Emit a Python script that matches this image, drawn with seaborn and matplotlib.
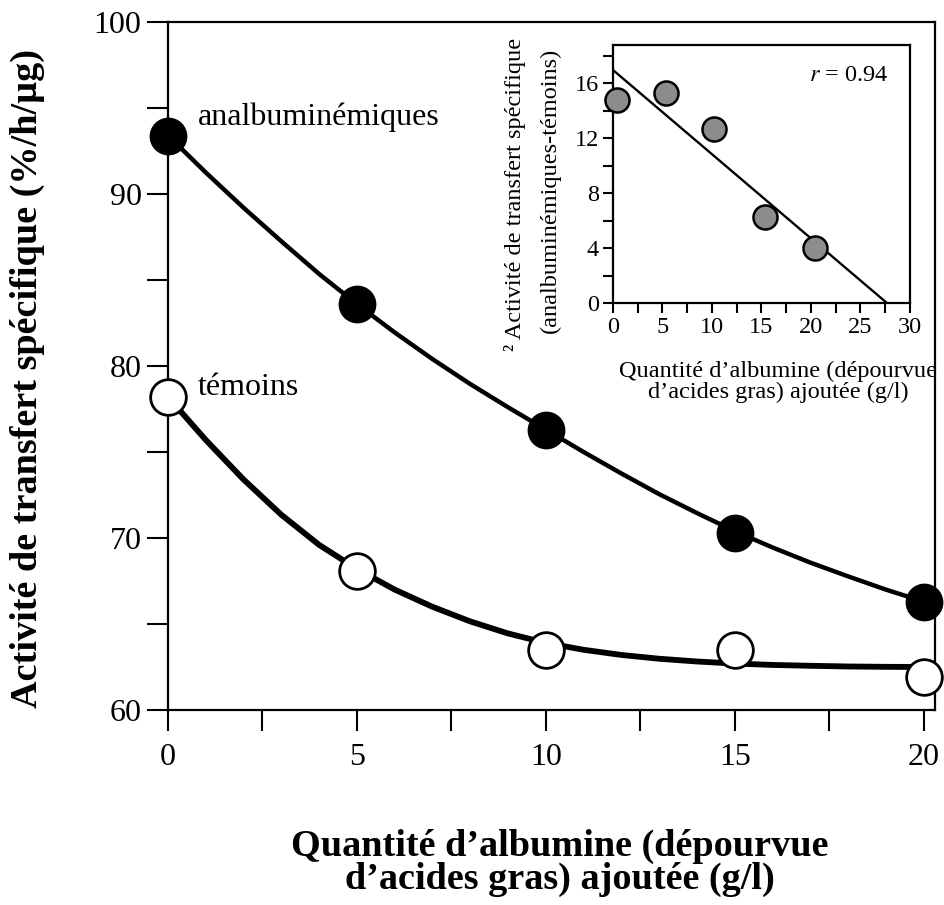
import numpy as np
import matplotlib
matplotlib.use("Agg")
import matplotlib.pyplot as plt
import seaborn as sns

# measured points (main panel)
dose = [0, 5, 10, 15, 20]
analb = [93.4, 83.6, 76.3, 70.3, 66.3]
temoins = [78.2, 68.1, 63.5, 63.5, 61.9]

# fitted curves
curve_x = [0, 1, 2, 3, 4, 5, 6, 7, 8, 9, 10, 11, 12, 13, 14, 15, 16, 17, 18, 19, 20]
analb_curve = [93.4, 91.25, 89.2, 87.25, 85.35, 83.6, 81.95, 80.4, 78.95, 77.6, 76.3,
               75.0, 73.75, 72.55, 71.45, 70.4, 69.45, 68.57, 67.77, 67.0, 66.3]
tem_curve = [78.2, 75.7, 73.4, 71.35, 69.6, 68.2, 67.0, 66.0, 65.15, 64.45, 63.9,
             63.5, 63.2, 62.98, 62.82, 62.7, 62.62, 62.57, 62.53, 62.51, 62.5]

# inset: difference analbuminemiques - temoins
ins_x = [0.4, 5.4, 10.2, 15.4, 20.4]
ins_y = [14.8, 15.3, 12.7, 6.3, 4.0]

sns.set_style("ticks")
plt.rcParams['font.family'] = ['Liberation Serif', 'DejaVu Serif']
plt.rcParams['mathtext.fontset'] = 'stix'
plt.rcParams['text.color'] = 'black'

W, H = 945, 905
fig = plt.figure(figsize=(9.45, 9.05), dpi=100)

# main panel
ax = fig.add_axes([168 / W, 1 - 710 / H, (935 - 168) / W, (710 - 22) / H])
ax.set_xlim(0, 20.3)
ax.set_ylim(60, 100)

sns.lineplot(x=curve_x, y=analb_curve, color='black', lw=3.2, sort=False, ax=ax)
sns.lineplot(x=curve_x, y=tem_curve, color='black', lw=4.2, sort=False, ax=ax)
sns.scatterplot(x=dose, y=analb, s=660, color='black', edgecolor='black', linewidth=1.5,
                zorder=5, clip_on=False, ax=ax)
sns.scatterplot(x=dose, y=temoins, s=660, color='white', edgecolor='black', linewidth=2,
                zorder=5, clip_on=False, ax=ax)

ax.set_xticks([0, 5, 10, 15, 20])
ax.set_xticks([2.5, 7.5, 12.5, 17.5], minor=True)
ax.set_yticks([60, 70, 80, 90, 100])
ax.set_yticks([65, 75, 85, 95], minor=True)
ax.tick_params(which='both', direction='out', length=15, width=1.5, labelsize=23,
               color='black', labelcolor='black')
ax.tick_params(axis='y', pad=4)
ax.tick_params(axis='x', pad=9)
for sp in ax.spines.values():
    sp.set_linewidth(1.6)
    sp.set_color('black')
ax.set_xlabel('')
ax.set_ylabel('')

ax.text(0.78, 94.0, 'analbuminémiques', fontsize=23, va='baseline', ha='left')
ax.text(0.78, 78.3, 'témoins', fontsize=23, va='baseline', ha='left')

fig.text(27 / W, 1 - 378 / H, 'Activité de transfert spécifique (%/h/µg)',
         rotation=90, ha='center', va='center', fontsize=27.5, fontweight='bold')
fig.text(560 / W, 1 - 863 / H, 'Quantité d\u2019albumine (dépourvue\nd\u2019acides gras) ajoutée (g/l)',
         ha='center', va='center', fontsize=27.5, fontweight='bold', linespacing=0.92)

# inset panel
ax2 = fig.add_axes([613 / W, 1 - 303 / H, (910 - 613) / W, (303 - 45) / H])
ax2.set_xlim(0, 30)
ax2.set_ylim(0, 18.8)
sns.regplot(x=ins_x, y=ins_y, ci=None, truncate=False, scatter=False,
            line_kws=dict(color='black', lw=1.7), ax=ax2)
sns.scatterplot(x=ins_x, y=ins_y, s=300, color='#8c8c8c', edgecolor='black', linewidth=1.8,
                zorder=5, clip_on=False, ax=ax2)
ax2.set_xlim(0, 30)
ax2.set_ylim(0, 18.8)
ax2.set_xticks([0, 5, 10, 15, 20, 25, 30])
ax2.set_xticks([2.5, 7.5, 12.5, 17.5, 22.5, 27.5], minor=True)
ax2.set_yticks([0, 4, 8, 12, 16])
ax2.set_yticks([2, 6, 10, 14, 18], minor=True)
ax2.tick_params(which='both', direction='out', length=7, width=1.5, labelsize=17.5,
                color='black', labelcolor='black', pad=3)
for sp in ax2.spines.values():
    sp.set_linewidth(1.6)
    sp.set_color('black')
ax2.set_xlabel('')
ax2.set_ylabel('')
ax2.text(19.8, 16.6, '$r$ = 0.94', fontsize=17.5, va='center', ha='left')

fig.text(778 / W, 1 - 382 / H, 'Quantité d\u2019albumine (dépourvue\nd\u2019acides gras) ajoutée (g/l)',
         ha='center', va='center', fontsize=17.5, linespacing=1.0)
fig.text(515 / W, 1 - 194 / H, '\u00b2 Activité de transfert spécifique',
         rotation=90, ha='center', va='center', fontsize=17.5)
fig.text(550 / W, 1 - 190 / H, '(analbuminémiques-témoins)',
         rotation=90, ha='center', va='center', fontsize=17.5)

fig.savefig('out.png', dpi=100)
